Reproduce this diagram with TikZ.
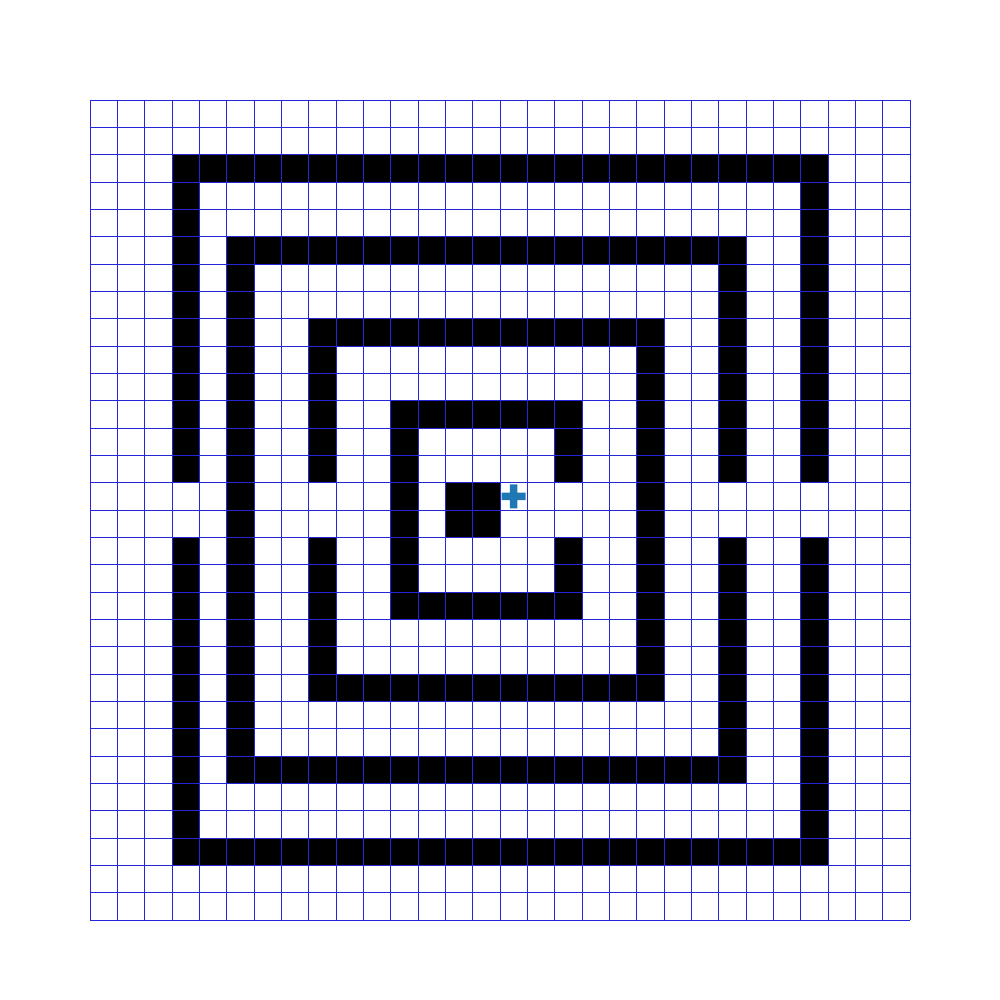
\documentclass[tikz,border=0pt]{standalone}
\usepackage{tikz}
\definecolor{gridblue}{rgb}{0.15,0.15,0.85}
\definecolor{markblue}{HTML}{1F77B4}

\begin{document}
\begin{tikzpicture}[x=0.5cm, y=-0.5cm,
    wall/.style={fill=black, draw=none},
    cellgrid/.style={draw=gridblue, line width=0.45pt, step=0.5cm}]
  \useasboundingbox (-3.293,-3.659) rectangle (33.293,32.927);

  % outer ring, openings left and right
  \fill[wall] (3,2) rectangle (27,3) (3,27) rectangle (27,28);
  \fill[wall] (3,3) rectangle (4,14) (3,16) rectangle (4,27);
  \fill[wall] (26,3) rectangle (27,14) (26,16) rectangle (27,27);

  % second ring, opening right
  \fill[wall] (5,5) rectangle (24,6) (5,24) rectangle (24,25);
  \fill[wall] (5,6) rectangle (6,24);
  \fill[wall] (23,6) rectangle (24,14) (23,16) rectangle (24,24);

  % third ring, opening left
  \fill[wall] (8,8) rectangle (21,9) (8,21) rectangle (21,22);
  \fill[wall] (8,9) rectangle (9,14) (8,16) rectangle (9,21);
  \fill[wall] (20,9) rectangle (21,21);

  % inner ring, opening right
  \fill[wall] (11,11) rectangle (18,12) (11,18) rectangle (18,19);
  \fill[wall] (11,12) rectangle (12,18);
  \fill[wall] (17,12) rectangle (18,14) (17,16) rectangle (18,18);

  % centre block
  \fill[wall] (13,14) rectangle (15,16);

  \draw[cellgrid] (0,0) grid (30,30);

  % goal marker
  \fill[markblue] (15.5,14.5) ++(-0.14,-0.44) -- ++(0.28,0) -- ++(0,0.3)
    -- ++(0.3,0) -- ++(0,0.28) -- ++(-0.3,0) -- ++(0,0.3) -- ++(-0.28,0)
    -- ++(0,-0.3) -- ++(-0.3,0) -- ++(0,-0.28) -- ++(0.3,0) -- cycle;
\end{tikzpicture}
\end{document}
